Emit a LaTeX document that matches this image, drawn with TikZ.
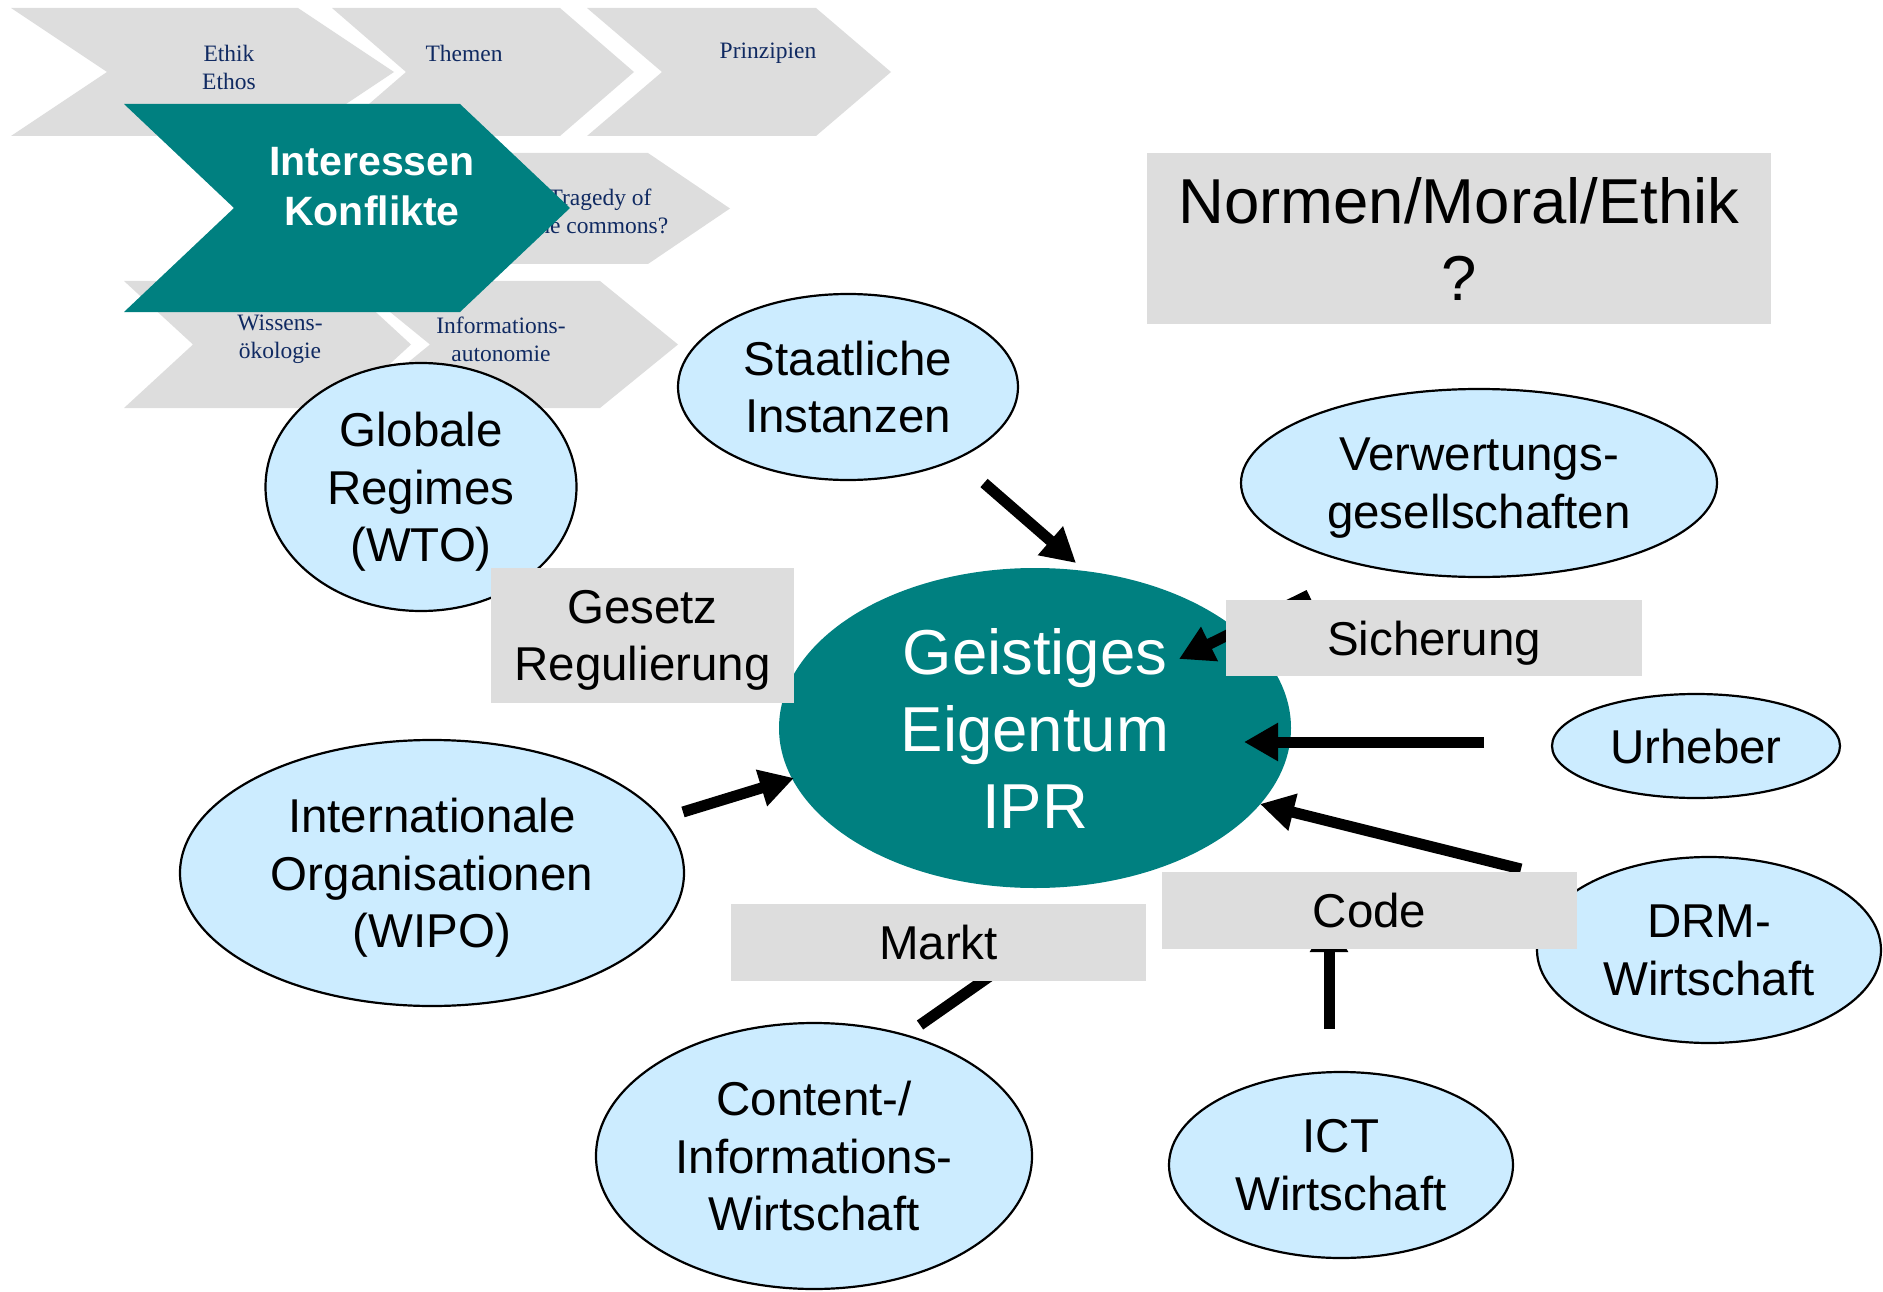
\documentclass[tikz,border=0pt]{standalone}
\usepackage{fontspec}
\setmainfont{Liberation Sans}
\newfontfamily\chevfont{Liberation Serif}
\usepackage{tikz}
\usetikzlibrary{arrows.meta}
\usetikzlibrary{shapes.geometric}
\definecolor{ipteal}{RGB}{0,128,128}
\definecolor{boxgray}{RGB}{221,221,221}
\definecolor{bubbleblue}{RGB}{204,236,255}
\definecolor{chevtext}{RGB}{16,42,98}

\begin{document}
\begin{tikzpicture}[x=1pt, y=-1pt,
        chev/.style={fill=boxgray},
        chevlabel/.style={font=\chevfont\fontsize{23.5}{28}\selectfont, text=chevtext, align=center, inner sep=0pt},
        bubble/.style={ellipse, draw=black, line width=2.2pt, fill=bubbleblue, inner sep=0pt, align=center, text depth=0pt, font=\fontsize{47.5}{57.5}\selectfont},
        tag/.style={rectangle, fill=boxgray, inner sep=0pt, align=center, text depth=0pt, font=\fontsize{47.5}{57.5}\selectfont},
        arr/.style={line width=11pt, -{Triangle[length=34pt, width=36pt]}}]
        \useasboundingbox (0,0) rectangle (1883,1292);

        \foreach \l/\t/\w/\h/\d in {11/8/287/128/96, 332/8/228/128/74, 587/8/229/128/75,
                420/153/228/111/82, 124/281/218/127/69, 352/281/248/127/78}
          \fill[chev] (\l,\t) -- ++(\w,0) -- ++(\d,\h/2) -- ++(-\d,\h/2) -- ++(-\w,0) -- ++(\d,-\h/2) -- cycle;

        \draw
        (229,67) node[chevlabel] (ethik) {Ethik\\Ethos}
        (464,53) node[chevlabel] (themen) {Themen}
        (768,53) node[chevlabel] (prinz) {Prinzipien}
        (600,211) node[chevlabel] (tragedy) {Tragedy of\\the commons?}
        (280,339) node[chevlabel] (wissen) {Wissens-\\ökologie}
        (501,339) node[chevlabel] (infoaut) {Informations-\\autonomie}
        ;

        \fill[ipteal] (124,104) -- ++(336,0) -- ++(110,104) -- ++(-110,104) -- ++(-336,0) -- ++(110,-104) -- cycle;
        \node[text=white, align=center, inner sep=0pt, font=\bfseries\fontsize{41}{50}\selectfont] (konflikt) at (372,187) {Interessen\\Konflikte};

        \node[bubble, minimum width=340pt, minimum height=186pt] (staat) at (848,387) {Staatliche\\Instanzen};
        \node[bubble, minimum width=311pt, minimum height=248pt] (global) at (421,487) {Globale\\Regimes\\(WTO)};
        \node[bubble, minimum width=476pt, minimum height=188pt] (verwert) at (1479,483) {Verwertungs-\\gesellschaften};
        \node[bubble, minimum width=288pt, minimum height=104pt] (urheber) at (1696,746) {Urheber};
        \node[bubble, minimum width=344pt, minimum height=186pt] (drm) at (1709,950) {DRM-\\Wirtschaft};
        \node[bubble, minimum width=344pt, minimum height=186pt] (ict) at (1341,1165) {ICT\\Wirtschaft};
        \node[bubble, minimum width=436pt, minimum height=266pt] (content) at (814,1156) {Content-/\\Informations-\\Wirtschaft};
        \node[bubble, minimum width=504pt, minimum height=266pt] (intorg) at (432,873) {Internationale\\Organisationen\\(WIPO)};
        \node[ellipse, fill=ipteal, text=white, inner sep=0pt, align=center, minimum width=512pt, minimum height=320pt,
              font=\fontsize{63.5}{77}\selectfont] (geist) at (1035,728) {Geistiges\\Eigentum\\IPR};

        \path
        (984,483) coordinate (staat-out)
        (1076,563) coordinate (geist-n)
        (1309,595) coordinate (verwert-out)
        (1179,659) coordinate (geist-ne)
        (1484,742) coordinate (urheber-out)
        (1244,742) coordinate (geist-e)
        (1521,869) coordinate (drm-out)
        (1260,804) coordinate (geist-se)
        (1329,1029) coordinate (ict-out)
        (1329,918) coordinate (code-in)
        (920,1025) coordinate (content-out)
        (1060,927) coordinate (markt-in)
        (683,812) coordinate (intorg-out)
        (794,778) coordinate (geist-w)
        ;

        \draw[arr] (staat-out) -- (geist-n);
        \draw[arr] (verwert-out) -- (geist-ne);
        \draw[arr] (urheber-out) -- (geist-e);
        \draw[arr] (drm-out) -- (geist-se);
        \draw[arr] (ict-out) -- (code-in);
        \draw[arr] (content-out) -- (markt-in);
        \draw[arr] (intorg-out) -- (geist-w);

        \node[tag, minimum width=303pt, minimum height=135pt] (gesetz) at (642.5,635.5) {Gesetz\\Regulierung};
        \node[tag, minimum width=416pt, minimum height=76pt] (sicherung) at (1434,638) {Sicherung};
        \node[tag, minimum width=415pt, minimum height=77pt] (code) at (1369.5,910.5) {Code};
        \node[tag, minimum width=415pt, minimum height=77pt] (markt) at (938.5,942.5) {Markt};
        \node[tag, minimum width=624pt, minimum height=171pt, font=\fontsize{63.5}{77}\selectfont] (normen) at (1459,238.5) {Normen/Moral/Ethik\\?};
\end{tikzpicture}
\end{document}
